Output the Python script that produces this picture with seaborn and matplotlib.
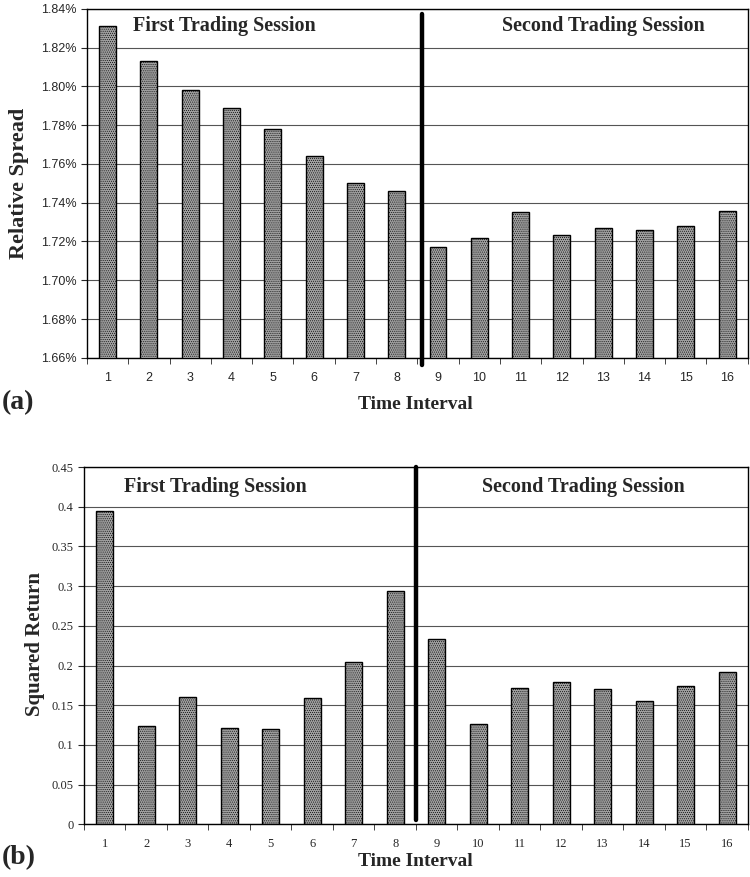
import numpy as np
import pandas as pd
import matplotlib
matplotlib.use("Agg")
import matplotlib.pyplot as plt
from matplotlib.ticker import FuncFormatter, MultipleLocator
import seaborn as sns

# data
intervals = [str(i) for i in range(1, 17)]
spread_pct = [1.831, 1.813, 1.798, 1.789, 1.778, 1.764, 1.750, 1.746,
              1.717, 1.722, 1.735, 1.7235, 1.727, 1.726, 1.728, 1.7355]
sq_return = [0.394, 0.124, 0.161, 0.121, 0.120, 0.159, 0.205, 0.294,
             0.233, 0.127, 0.172, 0.179, 0.170, 0.155, 0.174, 0.192]

sns.set_style("white")
serif = ["Liberation Serif", "DejaVu Serif"]
sans = ["Liberation Sans", "DejaVu Sans"]

fig = plt.figure(figsize=(7.5, 8.77), dpi=100)
ax_a = fig.add_axes([0.116, 0.592, 0.881, 0.398])
ax_b = fig.add_axes([0.112, 0.060, 0.885, 0.4075])

bar_color = "#a0a0a0"
plt.rcParams["hatch.color"] = "#7a7a7a"


def draw_panel(ax, values, ylim, step, tick_font, fmt):
    df = pd.DataFrame({"interval": intervals, "value": values})
    sns.barplot(data=df, x="interval", y="value", color=bar_color, width=0.41,
                edgecolor="black", linewidth=1.0, saturation=1, ax=ax, zorder=3)
    for p in ax.patches:
        p.set_hatch("........")
        p.set_hatch_linewidth(0.4)
    ax.set_ylim(*ylim)
    ax.set_xlim(-0.5, 15.5)
    ax.yaxis.set_major_locator(MultipleLocator(step))
    ax.yaxis.set_major_formatter(FuncFormatter(fmt))
    ax.grid(axis="y", color="#555555", linewidth=0.8, zorder=0)
    ax.set_axisbelow(True)
    for s in ax.spines.values():
        s.set_visible(True)
        s.set_color("black")
        s.set_linewidth(1.0)
    ax.set_xticks(np.arange(16))
    ax.set_xticks(np.arange(-0.5, 16, 1), minor=True)
    ax.tick_params(axis="x", which="major", length=0, pad=10)
    ax.tick_params(axis="x", which="minor", length=4, direction="out", bottom=True)
    ax.tick_params(axis="y", length=4, direction="out", left=True)
    for lab in ax.get_xticklabels() + ax.get_yticklabels():
        lab.set_fontfamily(tick_font)
        lab.set_fontsize(9)
    ax.set_xlabel("")
    ax.set_ylabel("")


draw_panel(ax_a, spread_pct, (1.66, 1.84), 0.02, sans,
           lambda v, _: f"{v:.2f}%")
draw_panel(ax_b, sq_return, (0, 0.45), 0.05, serif,
           lambda v, _: f"{v:g}")

# session separators
ax_a.axvline(7.62, ymin=-0.02, ymax=0.986, color="black", lw=3.2,
             clip_on=False, zorder=5)
ax_b.axvline(7.5, ymin=0.011, ymax=1.0, color="black", lw=3.2,
             clip_on=False, zorder=5)

title_kw = dict(fontfamily=serif, fontweight="bold", fontsize=14.5, va="center")
ax_a.text(0.07, 0.95, "First Trading Session", transform=ax_a.transAxes, ha="left", **title_kw)
ax_a.text(0.935, 0.95, "Second Trading Session", transform=ax_a.transAxes, ha="right", **title_kw)
ax_b.text(0.06, 0.945, "First Trading Session", transform=ax_b.transAxes, ha="left", **title_kw)
ax_b.text(0.905, 0.945, "Second Trading Session", transform=ax_b.transAxes, ha="right", **title_kw)

lab_kw = dict(fontfamily=serif, fontweight="bold", fontsize=14)
fig.text(0.554, 1 - 405 / 877, "Time Interval", ha="center", va="center", **lab_kw)
fig.text(0.554, 1 - 862 / 877, "Time Interval", ha="center", va="center", **lab_kw)
fig.text(0.025, 1 - 183 / 877, "Relative Spread", rotation=90, ha="center", va="center",
         fontfamily=serif, fontweight="bold", fontsize=16)
fig.text(0.047, 1 - 644 / 877, "Squared Return", rotation=90, ha="center", va="center",
         fontfamily=serif, fontweight="bold", fontsize=15)

panel_kw = dict(fontfamily=serif, fontweight="bold", fontsize=20, va="center", ha="left")
fig.text(0.002, 1 - 403 / 877, "(a)", **panel_kw)
fig.text(0.002, 1 - 858 / 877, "(b)", **panel_kw)

fig.savefig("out.png", dpi=100, facecolor="white")
